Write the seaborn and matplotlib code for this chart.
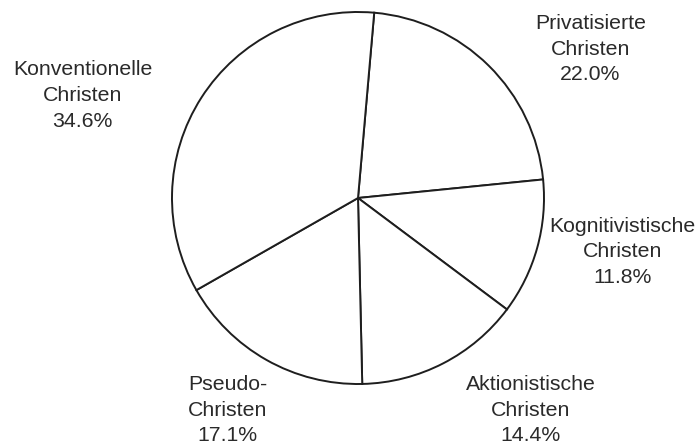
import matplotlib
matplotlib.use("Agg")
import matplotlib.pyplot as plt
import seaborn as sns

sns.set_theme(style="white")
plt.rcParams["font.family"] = ["Liberation Sans", "DejaVu Sans"]

# Christian types and their shares (percent), clockwise from the top
categories = [
    "Privatisierte\nChristen",
    "Kognitivistische\nChristen",
    "Aktionistische\nChristen",
    "Pseudo-\nChristen",
    "Konventionelle\nChristen",
]
shares = [22.0, 11.8, 14.4, 17.1, 34.6]

# label block centres in axis data units (pie radius = 1)
label_x = [1.25, 1.42, 0.93, -0.70, -1.48]
label_y = [0.80, -0.29, -1.14, -1.14, 0.55]

W, H = 698, 448
cx, cy, r = 358, 198, 186

fig = plt.figure(figsize=(W / 100, H / 100), dpi=100)
ax = fig.add_axes([(cx - r) / W, (H - cy - r) / H, 2 * r / W, 2 * r / H])

line_color = "#1e1e1e"
ax.pie(
    shares,
    startangle=85,
    counterclock=False,
    colors=["white"] * len(shares),
    wedgeprops=dict(edgecolor=line_color, linewidth=1.4),
    radius=1.0,
)
ax.set_xlim(-1, 1)
ax.set_ylim(-1, 1)
ax.set_aspect("auto")
ax.axis("off")

for name, val, x, y in zip(categories, shares, label_x, label_y):
    ax.text(
        x, y, f"{name}\n{val:.1f}%",
        ha="center", va="center", multialignment="center",
        fontsize=15.3, color="#2a2a2a", linespacing=1.45, clip_on=False,
    )

fig.savefig("out.png", dpi=100, facecolor="white")
